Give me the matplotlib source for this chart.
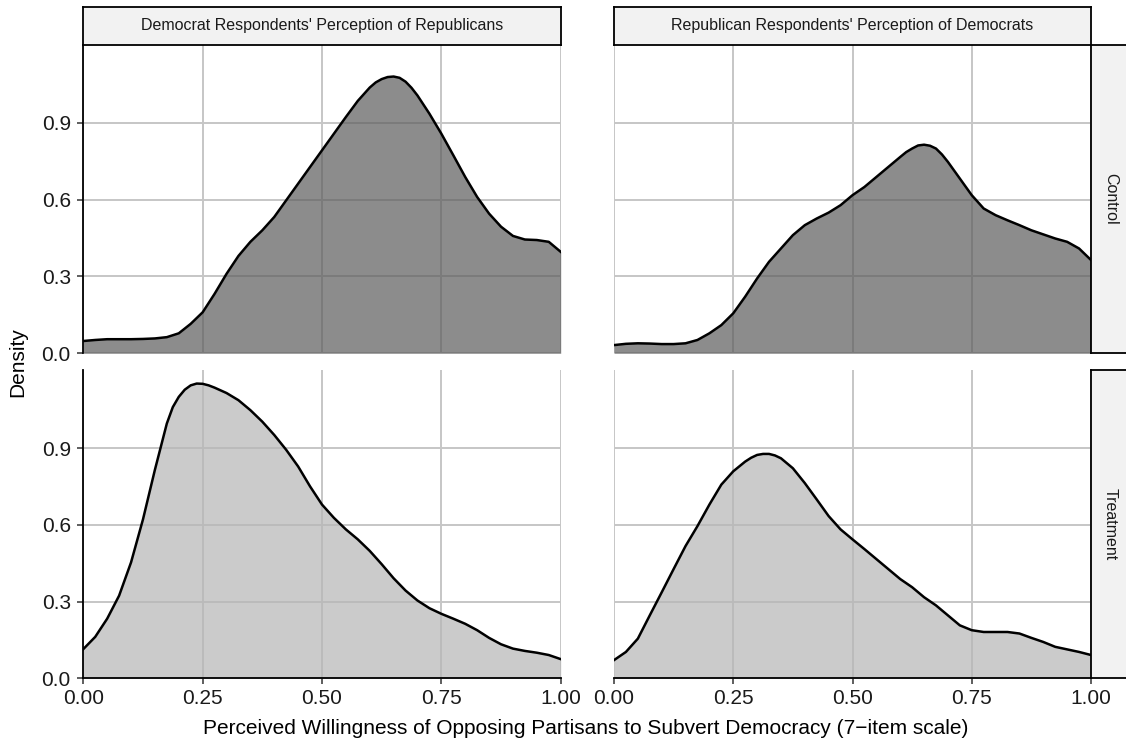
import matplotlib
matplotlib.use("Agg")
import matplotlib.pyplot as plt

plt.rcParams['font.family'] = ['Liberation Sans', 'DejaVu Sans']

# values, x in steps of 0.025
x_vals = [0.0, 0.025, 0.05, 0.075, 0.1, 0.125, 0.15, 0.175, 0.2, 0.225,
          0.25, 0.275, 0.3, 0.325, 0.35, 0.375, 0.4, 0.425, 0.45, 0.475,
          0.5, 0.525, 0.55, 0.575, 0.6, 0.625, 0.65, 0.675, 0.7, 0.725,
          0.75, 0.775, 0.8, 0.825, 0.85, 0.875, 0.9, 0.925, 0.95, 0.975, 1.0]

dem_control = [0.048, 0.052, 0.055, 0.055, 0.055, 0.056, 0.058, 0.063, 0.078, 0.115,
               0.160, 0.232, 0.310, 0.380, 0.435, 0.480, 0.532, 0.597, 0.662, 0.727,
               0.792, 0.857, 0.922, 0.985, 1.037, 1.070, 1.080, 1.060, 1.006, 0.935,
               0.857, 0.773, 0.688, 0.610, 0.545, 0.494, 0.458, 0.444, 0.442, 0.435, 0.396]

rep_control = [0.032, 0.037, 0.039, 0.038, 0.036, 0.036, 0.039, 0.052, 0.078, 0.110,
               0.156, 0.221, 0.292, 0.357, 0.409, 0.461, 0.500, 0.526, 0.549, 0.578,
               0.617, 0.649, 0.688, 0.727, 0.766, 0.799, 0.814, 0.799, 0.747, 0.682,
               0.617, 0.565, 0.539, 0.519, 0.500, 0.480, 0.464, 0.448, 0.435, 0.409, 0.364]

dem_treatment = [0.114, 0.162, 0.233, 0.323, 0.453, 0.621, 0.815, 0.996, 1.100, 1.145,
                 1.151, 1.136, 1.115, 1.087, 1.048, 1.003, 0.951, 0.893, 0.828, 0.750,
                 0.679, 0.627, 0.582, 0.543, 0.498, 0.446, 0.391, 0.343, 0.304, 0.274,
                 0.252, 0.233, 0.213, 0.188, 0.158, 0.133, 0.116, 0.107, 0.100, 0.091, 0.075]

rep_treatment = [0.071, 0.103, 0.155, 0.246, 0.336, 0.427, 0.517, 0.595, 0.679, 0.757,
                 0.809, 0.847, 0.873, 0.877, 0.860, 0.821, 0.763, 0.699, 0.634, 0.582,
                 0.543, 0.505, 0.466, 0.427, 0.388, 0.356, 0.317, 0.285, 0.246, 0.207,
                 0.188, 0.181, 0.181, 0.181, 0.175, 0.158, 0.142, 0.123, 0.113, 0.103, 0.091]

# extra readings around the peaks, where the curves bend sharply
dem_control_peak_x = [0.6125, 0.6375, 0.6625, 0.6875]
dem_control_peak_y = [1.057, 1.078, 1.075, 1.036]
rep_control_peak_x = [0.6125, 0.6375, 0.6625, 0.6875]
rep_control_peak_y = [0.785, 0.811, 0.810, 0.776]
dem_treatment_peak_x = [0.1875, 0.2125, 0.2375, 0.2625]
dem_treatment_peak_y = [1.060, 1.128, 1.152, 1.145]
rep_treatment_peak_x = [0.2875, 0.3125, 0.3375]
rep_treatment_peak_y = [0.862, 0.877, 0.871]

col_labels = ["Democrat Respondents' Perception of Republicans",
              "Republican Respondents' Perception of Democrats"]
row_labels = ["Control", "Treatment"]
x_ticks = [0.0, 0.25, 0.5, 0.75, 1.0]
x_ticklabels = ["0.00", "0.25", "0.50", "0.75", "1.00"]
y_ticks = [0.0, 0.3, 0.6, 0.9]
y_ticklabels = ["0.0", "0.3", "0.6", "0.9"]


def merged(xs, ys, px, py):
    pts = sorted(zip(list(xs) + list(px), list(ys) + list(py)))
    return [p[0] for p in pts], [p[1] for p in pts]


curves = [[merged(x_vals, dem_control, dem_control_peak_x, dem_control_peak_y),
           merged(x_vals, rep_control, rep_control_peak_x, rep_control_peak_y)],
          [merged(x_vals, dem_treatment, dem_treatment_peak_x, dem_treatment_peak_y),
           merged(x_vals, rep_treatment, rep_treatment_peak_x, rep_treatment_peak_y)]]
fills = ['#5b5b5b', '#b6b6b6']

W, H = 1126, 744
fig = plt.figure(figsize=(W / 100, H / 100), dpi=100)


def box(x0, y0, x1, y1):
    # pixel box (top-left origin) -> figure fractions
    return [x0 / W, 1 - y1 / H, (x1 - x0) / W, (y1 - y0) / H]


col_x = [(83.3, 560.7), (614, 1091)]
row_y = [(44.5, 353.3), (370, 678.3)]
grid_col = '#c6c6c6'
text_col = '#1a1a1a'

for r in range(2):
    for c in range(2):
        xs, ys = curves[r][c]
        ax = fig.add_axes(box(col_x[c][0], row_y[r][0], col_x[c][1], row_y[r][1]))
        ax.fill_between(xs, ys, 0, color=fills[r], alpha=0.7, linewidth=0, zorder=2)
        ax.plot(xs, ys, color='black', lw=1.8, zorder=3)
        ax.set_xlim(0, 1)
        ax.set_ylim(0, 1.205)
        ax.set_xticks(x_ticks)
        ax.set_yticks(y_ticks)
        ax.grid(True, color=grid_col, lw=1.4, zorder=1)
        ax.set_axisbelow(True)
        for s in ax.spines.values():
            s.set_visible(False)
        ax.tick_params(length=4.5, width=1.1, color='#333333', labelsize=15,
                       labelcolor=text_col)
        ax.tick_params(axis='x', pad=3)
        ax.tick_params(axis='y', pad=4.5)
        if c == 0:
            ax.spines['left'].set_visible(True)
            ax.spines['left'].set_linewidth(1.3)
            ax.spines['left'].set_zorder(4)
            ax.set_yticklabels(y_ticklabels)
        else:
            ax.tick_params(axis='y', left=False, labelleft=False)
        if r == 1:
            ax.spines['bottom'].set_visible(True)
            ax.spines['bottom'].set_linewidth(1.3)
            ax.spines['bottom'].set_zorder(4)
            ax.set_xticklabels(x_ticklabels)
        else:
            ax.tick_params(axis='x', bottom=False, labelbottom=False)

# column strips
for c in range(2):
    sx = fig.add_axes(box(col_x[c][0], 7, col_x[c][1], 44.5))
    sx.set_facecolor('#f2f2f2')
    sx.set_xticks([])
    sx.set_yticks([])
    for s in sx.spines.values():
        s.set_linewidth(1.3)
    sx.text(0.5, 0.5, col_labels[c], ha='center', va='center', fontsize=11.5,
            color=text_col, transform=sx.transAxes)

# row strips
for r in range(2):
    sy = fig.add_axes(box(1091, row_y[r][0], 1130, row_y[r][1]))
    sy.set_facecolor('#f2f2f2')
    sy.set_xticks([])
    sy.set_yticks([])
    for s in sy.spines.values():
        s.set_linewidth(1.3)
    sy.text(0.5, 0.5, row_labels[r], ha='center', va='center', fontsize=11.5,
            rotation=-90, color=text_col, transform=sy.transAxes)

fig.text(18 / W, 1 - 362 / H, "Density", rotation=90, ha='center', va='center',
         fontsize=15, color='black')
fig.text(586 / W, 1 - 728 / H,
         "Perceived Willingness of Opposing Partisans to Subvert Democracy (7\u2212item scale)",
         ha='center', va='center', fontsize=15, color='black')

fig.savefig("out.png", dpi=100)
